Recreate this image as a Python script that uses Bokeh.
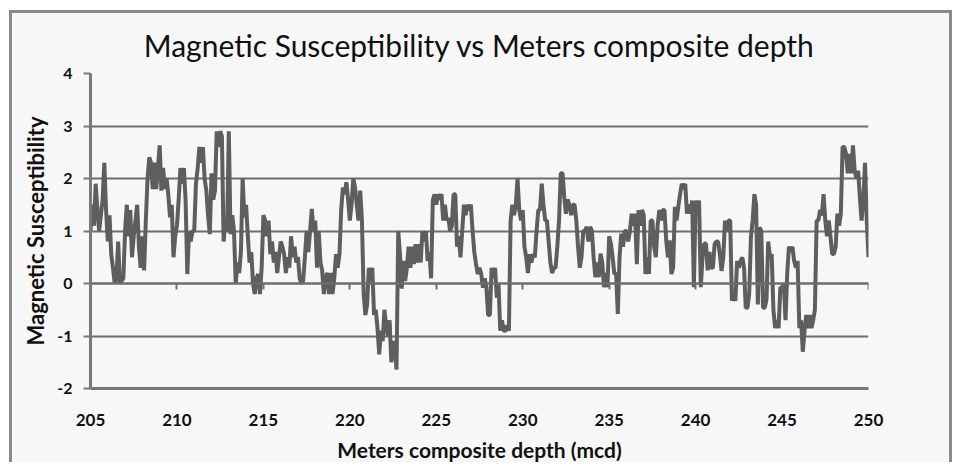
import numpy as np
from bokeh.plotting import figure
from bokeh.models import Range1d, LinearAxis, SingleIntervalTicker, CustomJSTickFormatter
from bokeh.embed import file_html
from bokeh.resources import INLINE

title_text = "Magnetic Susceptibility vs Meters composite depth"
x_label = "Meters composite depth (mcd)"
y_label = "Magnetic Susceptibility"
x_ticks = [205, 210, 215, 220, 225, 230, 235, 240, 245, 250]
y_ticks = [-2, -1, 0, 1, 2, 3, 4]
y_tick_labels = {-2: "-2", -1: "-1", 0: "0", 1: "1", 2: "2", 3: "3", 4: "4"}

# sampling step of the record (m)
step = 0.1
start_depth = 205.0

# magnetic susceptibility, one row per metre (values at x.0, x.1, ... x.9)
ms_205 = [1.0, 1.5, 1.1, 1.9, 1.4, 1.0, 1.3, 1.6, 2.3, 1.4]
ms_206 = [0.8, 1.3, 0.55, 0.3, 0.0, 0.1, 0.8, 0.0, 0.05, 0.1]
ms_207 = [1.0, 1.5, 0.9, 1.4, 0.5, 0.9, 1.2, 1.5, 0.7, 0.3]
ms_208 = [0.9, 0.25, 1.2, 2.0, 2.4, 2.3, 1.8, 2.3, 1.8, 2.2]
ms_209 = [2.63, 1.77, 2.2, 1.8, 2.0, 1.7, 1.26, 1.5, 0.5, 0.9]
ms_210 = [1.1, 1.6, 2.2, 1.9, 2.2, 1.6, 0.18, 1.0, 0.8, 1.0]
ms_211 = [1.0, 1.9, 2.2, 2.6, 2.3, 2.6, 2.0, 1.77, 1.3, 0.94]
ms_212 = [2.1, 1.6, 1.77, 2.9, 2.6, 2.9, 2.8, 0.8, 1.2, 1.0]
ms_213 = [2.9, 0.94, 1.3, 1.0, 0.0, 0.4, 0.2, 0.6, 2.0, 1.26]
ms_214 = [1.5, 0.9, 0.4, 0.6, 0.0, -0.2, 0.1, 0.18, -0.2, 0.3]
ms_215 = [1.3, 1.2, 0.9, 1.2, 0.56, 0.8, 0.4, 0.6, 0.2, 0.5]
ms_216 = [0.8, 0.7, 0.56, 0.2, 0.5, 0.3, 0.9, 0.5, 0.7, 0.4]
ms_217 = [0.5, 0.1, 0.0, 0.05, 0.5, 1.0, 0.6, 1.0, 1.42, 1.0]
ms_218 = [1.2, 0.3, 1.0, 0.4, 0.25, -0.2, 0.1, 0.2, -0.2, 0.2]
ms_219 = [-0.2, 0.1, 0.56, 0.3, 0.56, 1.4, 1.83, 1.7, 1.93, 1.6]
ms_220 = [1.2, 1.5, 2.0, 1.83, 1.5, 1.2, 1.77, 1.2, -0.2, -0.6]
ms_221 = [-0.4, 0.3, 0.0, 0.3, -0.6, -0.5, -0.85, -1.35, -0.9, -1.1]
ms_222 = [-0.5, -0.8, -1.0, -0.7, -1.5, -1.1, -1.2, -1.64, 1.0, 0.56]
ms_223 = [-0.1, 0.43, 0.05, 0.3, 0.7, 0.3, 0.7, 0.37, 0.75, 0.4]
ms_224 = [0.75, 0.4, 1.0, 0.8, 1.0, 0.43, 0.6, 0.1, 1.58, 1.7]
ms_225 = [1.5, 1.7, 1.6, 1.7, 1.2, 1.5, 1.2, 1.25, 1.0, 1.1]
ms_226 = [1.7, 1.7, 0.7, 0.9, 0.5, 1.0, 1.5, 1.3, 1.5, 1.4]
ms_227 = [1.5, 1.0, 0.6, 0.37, 0.18, 0.3, 0.18, -0.08, 0.1, -0.08]
ms_228 = [-0.6, -0.6, 0.3, 0.1, 0.3, -0.27, 0.0, -0.9, -0.7, -0.9]
ms_229 = [-0.9, -0.8, -0.9, 1.2, 1.5, 1.3, 1.5, 2.0, 1.4, 1.2]
ms_230 = [1.4, 0.7, 0.5, 0.2, 0.56, 0.4, 0.56, 0.5, 1.0, 1.4]
ms_231 = [1.4, 1.9, 1.5, 1.2, 1.2, 0.8, 0.4, 0.2, 0.3, 0.3]
ms_232 = [0.7, 1.2, 2.1, 2.1, 1.65, 1.33, 1.6, 1.5, 1.3, 1.5]
ms_233 = [1.5, 1.2, 0.7, 0.3, 0.5, 1.0, 1.0, 1.08, 0.8, 1.08]
ms_234 = [1.0, 0.5, 0.12, 0.4, 0.12, 0.57, 0.4, -0.07, 0.2, -0.07]
ms_235 = [0.9, 0.76, 0.5, 0.18, 0.2, -0.58, 0.5, 0.95, 0.7, 1.0]
ms_236 = [1.0, 0.8, 1.0, 1.33, 1.1, 1.33, 0.37, 1.4, 1.1, 1.4]
ms_237 = [1.3, 0.18, 0.5, 0.18, 1.2, 1.2, 0.7, 0.5, 1.1, 1.4]
ms_238 = [1.2, 1.4, 1.4, 0.82, 0.5, 0.82, 0.18, 0.3, 1.46, 1.2]
ms_239 = [1.46, 1.7, 1.9, 1.8, 1.9, 1.33, 1.5, 1.33, 1.58, -0.07]
ms_240 = [1.58, 1.4, 1.58, -0.07, 0.5, 0.76, 0.76, 0.25, 0.6, 0.3]
ms_241 = [0.3, 0.75, 0.8, 0.8, 0.56, 0.24, 0.5, 1.2, 1.0, 1.2]
ms_242 = [1.2, -0.33, -0.2, -0.33, 0.43, 0.3, 0.43, 0.5, 0.3, -0.46]
ms_243 = [-0.46, -0.2, 0.88, 1.2, 1.7, 1.5, -0.4, 1.07, 1.0, -0.46]
ms_244 = [-0.46, -0.3, 0.8, 0.5, 0.56, -0.5, -0.85, -0.7, -0.85, -0.08]
ms_245 = [-0.08, 0.0, -0.7, 0.2, 0.7, 0.6, 0.7, 0.43, 0.3, 0.43]
ms_246 = [-0.85, -0.7, -1.3, -0.9, -0.6, -0.85, -0.6, -0.85, -0.7, -0.5]
ms_247 = [1.2, 1.2, 1.4, 1.3, 1.7, 1.2, 0.9, 1.2, 0.9, 0.56]
ms_248 = [0.56, 0.7, 1.33, 1.1, 1.33, 2.6, 2.6, 2.47, 2.1, 2.47]
ms_249 = [2.1, 2.63, 2.15, 2.0, 2.15, 1.64, 1.2, 1.6, 2.3, 1.2]
ms_250 = [0.5]

rows = [ms_205, ms_206, ms_207, ms_208, ms_209, ms_210, ms_211, ms_212, ms_213,
        ms_214, ms_215, ms_216, ms_217, ms_218, ms_219, ms_220, ms_221, ms_222,
        ms_223, ms_224, ms_225, ms_226, ms_227, ms_228, ms_229, ms_230, ms_231,
        ms_232, ms_233, ms_234, ms_235, ms_236, ms_237, ms_238, ms_239, ms_240,
        ms_241, ms_242, ms_243, ms_244, ms_245, ms_246, ms_247, ms_248, ms_249,
        ms_250]
susceptibility = [v for r in rows for v in r]
depth = [round(start_depth + step * i, 2) for i in range(len(susceptibility))]

GRID = "#6e6e6e"
AXIS = "#787878"
BG = "#f7f7f7"
FONT = "Lato"

# canvas sits inside a 3px frame line that starts at (9, 10) on the page
OX, OY = 12, 13
W, H = 943, 452
p = figure(width=W, height=H, output_backend="svg", toolbar_location=None,
           x_range=Range1d(205, 250), y_range=Range1d(-2, 4),
           min_border_left=90 - OX, min_border_right=OX + W - 868,
           min_border_top=73 - OY, min_border_bottom=OY + H - 388,
           background_fill_color=BG, border_fill_color=BG)
p.outline_line_color = None
p.styles = {"margin-left": "9px", "margin-top": "10px",
            "border-top": "3px solid #8a8a8a", "border-left": "3px solid #8a8a8a",
            "border-right": "3px solid #8a8a8a", "border-bottom": "none"}

p.title.text = title_text
p.title.align = "center"
p.title.text_font = FONT
p.title.text_font_style = "normal"
p.title.text_font_size = "30px"
p.title.text_color = "#111111"
p.title.standoff = 21

p.line(depth, susceptibility, line_color="#5e5e5e", line_width=4)

# x axis (labels at the bottom, line along -2)
xa = p.xaxis[0]
xa.ticker = x_ticks
xa.axis_line_color = AXIS
xa.axis_line_width = 3
xa.major_tick_line_color = None
xa.major_tick_out = 0
xa.major_tick_in = 0
xa.minor_tick_line_color = None
xa.minor_tick_out = 0
xa.major_label_standoff = 25
xa.major_label_text_font = FONT
xa.major_label_text_font_style = "bold"
xa.major_label_text_font_size = "17px"
xa.major_label_text_color = "#111111"
xa.axis_label = x_label
xa.axis_label_text_font = FONT
xa.axis_label_text_font_style = "bold"
xa.axis_label_text_font_size = "21px"
xa.axis_label_text_color = "#111111"
xa.axis_label_standoff = 8

# crossing axis at y = 0 with its tick marks
zero_axis = LinearAxis(fixed_location=0, ticker=SingleIntervalTicker(interval=5),
                       formatter=CustomJSTickFormatter(code="return ''"))
zero_axis.axis_line_color = GRID
zero_axis.axis_line_width = 2
zero_axis.major_tick_line_color = GRID
zero_axis.major_tick_line_width = 2
zero_axis.major_tick_out = 6
zero_axis.major_tick_in = 0
zero_axis.minor_tick_line_color = None
p.add_layout(zero_axis, "below")

ya = p.yaxis[0]
ya.ticker = y_ticks
ya.major_label_overrides = y_tick_labels
ya.axis_line_color = AXIS
ya.axis_line_width = 3
ya.major_tick_line_color = AXIS
ya.major_tick_line_width = 2
ya.major_tick_out = 7
ya.major_tick_in = 0
ya.minor_tick_line_color = None
ya.major_label_standoff = 11
ya.major_label_text_font = FONT
ya.major_label_text_font_style = "bold"
ya.major_label_text_font_size = "16px"
ya.major_label_text_color = "#111111"
ya.axis_label = y_label
ya.axis_label_text_font = FONT
ya.axis_label_text_font_style = "bold"
ya.axis_label_text_font_size = "22px"
ya.axis_label_text_color = "#111111"
ya.axis_label_standoff = 5

p.xgrid.grid_line_color = None
p.ygrid.ticker = y_ticks
p.ygrid.grid_line_color = GRID
p.ygrid.grid_line_width = 2

open("out.html", "w").write(file_html(p, INLINE))
